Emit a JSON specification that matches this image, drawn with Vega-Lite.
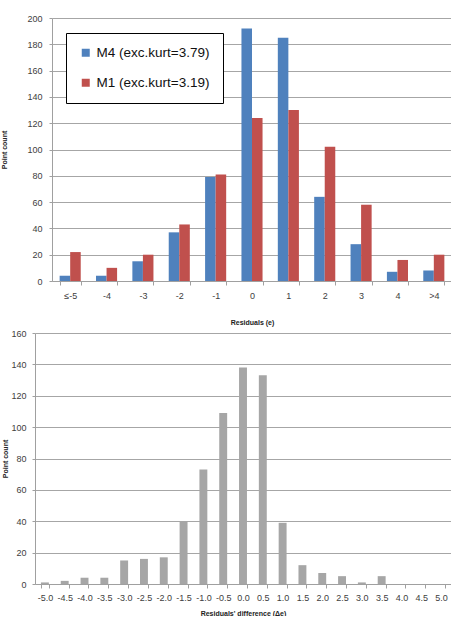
{
  "$schema": "https://vega.github.io/schema/vega-lite/v6.json",
  "padding": {"left": 0, "top": 14, "right": 0, "bottom": 0},
  "background": "white",
  "spacing": 4,
  "config": {
    "font": "Liberation Sans",
    "view": {"stroke": null},
    "axis": {
      "labelFont": "Liberation Sans",
      "labelFontSize": 9,
      "labelColor": "#404040",
      "titleFont": "Liberation Sans",
      "titleFontSize": 7,
      "titleFontWeight": "bold",
      "titleColor": "#222222",
      "domainColor": "#a0a0a0",
      "tickColor": "#a0a0a0",
      "gridColor": "#a6a6a6",
      "gridWidth": 1,
      "tickSize": 3
    }
  },
  "vconcat": [
    {
      "width": 417,
      "height": 263,
      "data": {
        "values": [
          {"bin": "≤-5", "model": "M4 (exc.kurt=3.79)", "count": 4},
          {"bin": "-4", "model": "M4 (exc.kurt=3.79)", "count": 4},
          {"bin": "-3", "model": "M4 (exc.kurt=3.79)", "count": 15},
          {"bin": "-2", "model": "M4 (exc.kurt=3.79)", "count": 37},
          {"bin": "-1", "model": "M4 (exc.kurt=3.79)", "count": 79},
          {"bin": "0", "model": "M4 (exc.kurt=3.79)", "count": 192},
          {"bin": "1", "model": "M4 (exc.kurt=3.79)", "count": 185},
          {"bin": "2", "model": "M4 (exc.kurt=3.79)", "count": 64},
          {"bin": "3", "model": "M4 (exc.kurt=3.79)", "count": 28},
          {"bin": "4", "model": "M4 (exc.kurt=3.79)", "count": 7},
          {"bin": ">4", "model": "M4 (exc.kurt=3.79)", "count": 8},
          {"bin": "≤-5", "model": "M1 (exc.kurt=3.19)", "count": 22},
          {"bin": "-4", "model": "M1 (exc.kurt=3.19)", "count": 10},
          {"bin": "-3", "model": "M1 (exc.kurt=3.19)", "count": 20},
          {"bin": "-2", "model": "M1 (exc.kurt=3.19)", "count": 43},
          {"bin": "-1", "model": "M1 (exc.kurt=3.19)", "count": 81},
          {"bin": "0", "model": "M1 (exc.kurt=3.19)", "count": 124},
          {"bin": "1", "model": "M1 (exc.kurt=3.19)", "count": 130},
          {"bin": "2", "model": "M1 (exc.kurt=3.19)", "count": 102},
          {"bin": "3", "model": "M1 (exc.kurt=3.19)", "count": 58},
          {"bin": "4", "model": "M1 (exc.kurt=3.19)", "count": 16},
          {"bin": ">4", "model": "M1 (exc.kurt=3.19)", "count": 20}
        ]
      },
      "mark": {"type": "bar"},
      "encoding": {
        "x": {
          "field": "bin",
          "type": "nominal",
          "sort": null,
          "scale": {"range": [17, 417], "paddingInner": 0.42, "paddingOuter": 0.21},
          "axis": {
            "title": "Residuals (e)",
            "labelAngle": 0,
            "tickBand": "extent",
            "tickSize": 4,
            "labelPadding": 6,
            "titlePadding": 18
          }
        },
        "xOffset": {
          "field": "model",
          "type": "nominal",
          "sort": ["M4 (exc.kurt=3.79)", "M1 (exc.kurt=3.19)"]
        },
        "y": {
          "field": "count",
          "type": "quantitative",
          "scale": {"domain": [0, 200]},
          "axis": {
            "title": "Point count",
            "values": [0, 20, 40, 60, 80, 100, 120, 140, 160, 180, 200],
            "offset": -17,
            "titlePadding": 19,
            "labelPadding": 7
          }
        },
        "color": {
          "field": "model",
          "type": "nominal",
          "sort": ["M4 (exc.kurt=3.79)", "M1 (exc.kurt=3.19)"],
          "scale": {"range": ["#4f81bd", "#c0504d"]},
          "legend": {
            "title": null,
            "orient": "none",
            "legendX": 31,
            "legendY": 15,
            "direction": "vertical",
            "symbolType": "square",
            "symbolSize": 64,
            "symbolStrokeWidth": 0,
            "labelFont": "Liberation Sans",
            "labelFontSize": 13.5,
            "labelColor": "#111111",
            "labelLimit": 300,
            "rowPadding": 15,
            "padding": 13,
            "strokeColor": "#000000",
            "fillColor": "#ffffff",
            "labelOffset": 4
          }
        }
      }
    },
    {
      "width": 416,
      "height": 251,
      "data": {
        "values": [
          {"diff": "-5.0", "count": 1},
          {"diff": "-4.5", "count": 2},
          {"diff": "-4.0", "count": 4},
          {"diff": "-3.5", "count": 4},
          {"diff": "-3.0", "count": 15},
          {"diff": "-2.5", "count": 16},
          {"diff": "-2.0", "count": 17},
          {"diff": "-1.5", "count": 40},
          {"diff": "-1.0", "count": 73},
          {"diff": "-0.5", "count": 109},
          {"diff": "0.0", "count": 138},
          {"diff": "0.5", "count": 133},
          {"diff": "1.0", "count": 39},
          {"diff": "1.5", "count": 12},
          {"diff": "2.0", "count": 7},
          {"diff": "2.5", "count": 5},
          {"diff": "3.0", "count": 1},
          {"diff": "3.5", "count": 5},
          {"diff": "4.0", "count": 0},
          {"diff": "4.5", "count": 0},
          {"diff": "5.0", "count": 0}
        ]
      },
      "mark": {"type": "bar", "color": "#a6a6a6"},
      "encoding": {
        "x": {
          "field": "diff",
          "type": "nominal",
          "sort": null,
          "scale": {"paddingInner": 0.6, "paddingOuter": 0.3},
          "axis": {
            "title": "Residuals' difference (Δe)",
            "labelAngle": 0,
            "tickBand": "extent",
            "tickSize": 4,
            "labelPadding": 5,
            "titlePadding": 7
          }
        },
        "y": {
          "field": "count",
          "type": "quantitative",
          "scale": {"domain": [0, 160]},
          "axis": {
            "title": "Point count",
            "values": [0, 20, 40, 60, 80, 100, 120, 140, 160],
            "titlePadding": 2,
            "labelPadding": 6
          }
        }
      }
    }
  ]
}
